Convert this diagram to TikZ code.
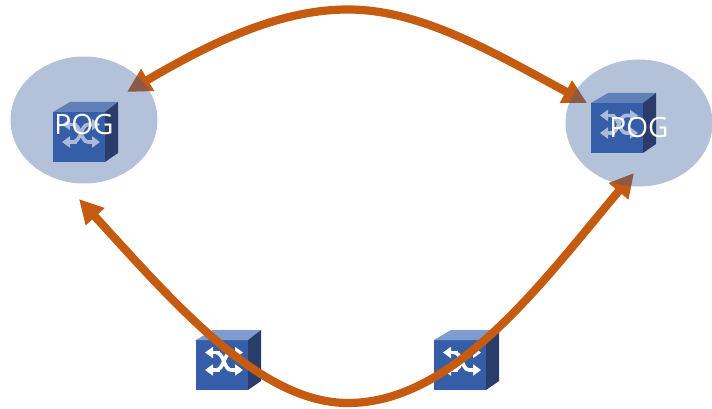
\documentclass[tikz,border=0pt]{standalone}
\usepackage{fontspec}
\setsansfont{Open Sans}
\usetikzlibrary{arrows.meta}
\definecolor{linkc}{RGB}{197,90,17}
\definecolor{haloc}{RGB}{55,92,155}
\definecolor{frontc}{RGB}{54,94,168}
\definecolor{sidec}{RGB}{42,60,106}
\definecolor{topdim}{RGB}{96,128,186}
\definecolor{topbright}{RGB}{126,155,210}
\definecolor{glyphdim}{RGB}{170,186,216}
\tikzset{
  x=1pt,y=-1pt,
  link/.style={draw=linkc,line width=8.2pt,{Triangle[length=24pt,width=24pt]}-{Triangle[length=24pt,width=24pt]}},
  cubelabel/.style={text=white,font=\sffamily\fontsize{28}{28}\selectfont,inner sep=0pt},
  glyph/.style={line width=3.6pt,-{Triangle[length=8pt,width=11pt]}},
}
\newcommand{\swcube}[4]{% x, y of front top-left, top colour, glyph colour
  \begin{scope}[shift={(#1,#2)}]
    \fill[frontc] (0,0) rectangle (52,50);
    \fill[#3] (0,0) -- (17,-10) -- (65,-10) -- (52,0) -- cycle;
    \fill[sidec] (52,0) -- (65,-10) -- (65,41) -- (52,50) -- cycle;
    \draw[glyph,#4] (24,12.5) -- (9,12.5);
    \draw[glyph,#4] (24,30) -- (9,30);
    \draw[glyph,#4] (20,12.5) .. controls (28,12.5) and (28,30) .. (35,30) -- (47,30);
    \draw[glyph,#4] (20,30) .. controls (28,30) and (28,12.5) .. (35,12.5) -- (47,12.5);
  \end{scope}
}
\begin{document}
\begin{tikzpicture}
\useasboundingbox (0,0) rectangle (712,409);
\coordinate (tlA) at (127,92);
\coordinate (tlB) at (587,103);
\coordinate (blA) at (79,199);
\coordinate (blB) at (634,173);
\coordinate (peak) at (348,9.5);
\coordinate (dip) at (348,403);
% lower switches, under the link
\swcube{196}{340}{topbright}{white}
\swcube{434}{340}{topbright}{white}
% links
\draw[link] (tlA) .. controls (212,42) and (280,9.5) .. (peak) .. controls (420,9.5) and (491,51) .. (tlB);
\draw[link] (blA) .. controls (175,304) and (260,403) .. (dip) .. controls (455,403) and (543,281) .. (blB);
% halos
\fill[haloc,fill opacity=0.38] (84,120) ellipse (73.5 and 63.5);
\fill[haloc,fill opacity=0.38] (639,123) ellipse (73.5 and 63.5);
% upper switches
\swcube{53}{112}{topdim}{glyphdim}
\swcube{591}{103}{topdim}{glyphdim}
\node[cubelabel] (pogL) at (84,124) {POG};
\node[cubelabel] (pogR) at (639,127) {POG};
\end{tikzpicture}
\end{document}
